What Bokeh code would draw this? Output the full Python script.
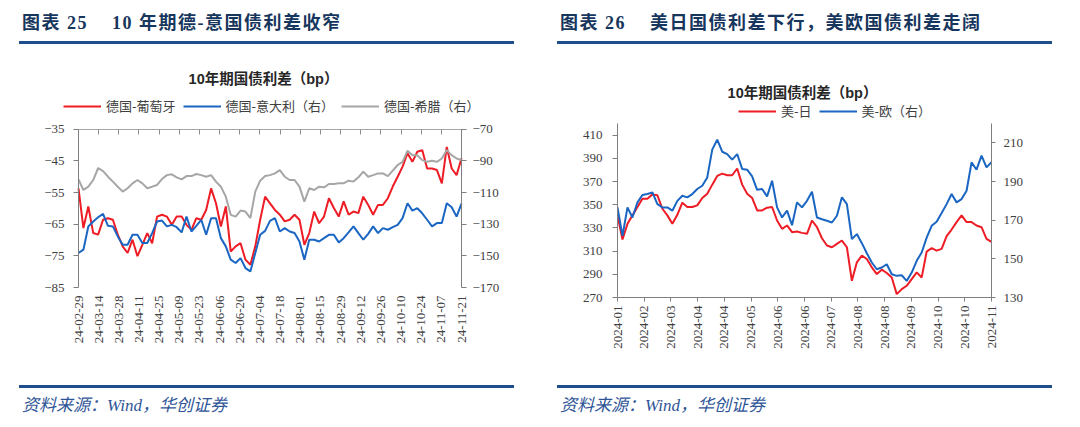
import numpy as np
from bokeh.plotting import figure
from bokeh.models import Range1d, LinearAxis, FixedTicker, Legend, LegendItem, Label, Div
from bokeh.layouts import row, column
from bokeh.embed import file_html
from bokeh.resources import INLINE

# ---------------- data: chart 25 (10Y spreads vs Germany, bp) ----------------
left_x_labels = ["24-02-29", "24-03-14", "24-03-28", "24-04-11", "24-04-25", "24-05-09",
                 "24-05-23", "24-06-06", "24-06-20", "24-07-04", "24-07-18", "24-08-01",
                 "24-08-15", "24-08-29", "24-09-12", "24-09-26", "24-10-10", "24-10-24",
                 "24-11-07", "24-11-21"]

de_pt = [-53.7, -66.2, -59.4, -67.8, -68.3, -63.6, -63.1, -63.6, -68.3, -72.0,
         -74.1, -69.9, -75.1, -71.5, -67.8, -71.0, -62.6, -62.0, -62.6, -65.2,
         -62.6, -62.6, -65.2, -66.8, -63.1, -63.6, -60.5, -53.7, -58.4, -65.7,
         -59.4, -73.6, -72.0, -71.0, -76.2, -77.8, -72.0, -63.6, -56.3, -58.4,
         -60.5, -62.0, -64.1, -63.6, -62.0, -63.6, -71.5, -67.8, -61.0, -64.7,
         -62.6, -56.8, -59.9, -62.6, -57.8, -62.0, -61.0, -61.5, -56.3, -58.9,
         -62.0, -58.9, -58.9, -56.8, -53.1, -50.0, -46.8, -42.6, -45.3, -42.1,
         -41.6, -47.4, -47.4, -47.9, -52.1, -40.6, -47.4, -49.5, -44.2]

de_it = [-148.2, -146.1, -131.4, -128.3, -125.6, -123.5, -131.0, -131.4, -137.7, -143.0,
         -143.0, -136.7, -136.7, -141.9, -141.9, -135.6, -128.3, -127.7, -131.4, -130.4,
         -131.9, -135.2, -125.2, -134.6, -131.0, -127.2, -136.7, -126.2, -126.2, -138.8,
         -144.0, -152.4, -154.5, -151.4, -157.7, -159.8, -148.2, -136.7, -134.2, -127.9,
         -126.2, -134.6, -132.5, -134.6, -135.6, -140.9, -152.4, -139.8, -139.8, -140.9,
         -138.8, -136.7, -136.7, -141.5, -138.8, -135.2, -131.4, -135.6, -139.8, -136.1,
         -131.4, -135.6, -132.5, -133.5, -131.9, -130.4, -126.2, -116.8, -121.4, -119.9,
         -123.1, -127.2, -131.4, -129.3, -129.3, -116.8, -119.3, -125.2, -117.0]

de_gr = [-101.7, -108.4, -106.3, -102.1, -94.5, -96.5, -100.0, -103.1, -106.3, -109.4,
         -107.3, -104.2, -102.1, -104.2, -107.3, -106.3, -105.2, -101.5, -99.0, -98.5,
         -100.4, -101.7, -99.6, -99.6, -98.3, -99.0, -100.0, -99.0, -103.1, -106.3,
         -112.6, -124.1, -125.2, -121.4, -122.0, -126.2, -109.4, -102.5, -99.6, -99.0,
         -97.9, -95.8, -100.0, -102.1, -102.1, -106.3, -115.7, -107.3, -108.4, -106.3,
         -106.7, -104.6, -104.6, -104.2, -104.2, -102.5, -103.1, -100.4, -96.8, -100.0,
         -99.0, -97.9, -97.9, -99.6, -96.2, -92.6, -90.6, -83.6, -86.4, -86.4,
         -89.5, -90.6, -89.9, -90.6, -88.5, -83.2, -86.4, -88.5, -89.5]

# ---------------- data: chart 26 (US-JP, US-EU 10Y spreads, bp) ----------------
right_x_labels = ["2024-01", "2024-02", "2024-03", "2024-04", "2024-04", "2024-05",
                  "2024-06", "2024-06", "2024-07", "2024-08", "2024-08", "2024-09",
                  "2024-10", "2024-10", "2024-11"]

us_jp = [340.8, 320.0, 333.5, 340.8, 348.0, 355.2, 355.2, 358.9, 358.1, 346.5,
         340.8, 333.5, 341.3, 351.7, 348.0, 348.0, 349.4, 355.8, 359.5, 367.3,
         374.8, 376.8, 375.4, 375.4, 381.2, 367.3, 359.5, 355.8, 345.1, 345.1,
         347.4, 348.0, 336.4, 329.2, 332.1, 326.3, 326.9, 325.7,
         324.9, 336.4, 330.6, 321.1, 314.8, 313.3, 316.2, 319.1, 313.3, 284.4,
         300.3, 306.1, 303.2, 296.0, 290.2, 294.0, 291.1, 287.3, 272.9, 277.2,
         280.1, 285.9, 291.7, 287.3, 309.6, 312.5, 310.4, 311.9, 322.9, 328.6,
         335.0, 340.8, 335.0, 335.0, 332.1, 330.6, 320.5, 318.0]

us_eu = [176.6, 161.9, 176.6, 171.4, 179.2, 183.0, 183.5, 184.4, 178.3, 176.6,
         176.6, 174.9, 180.0, 182.6, 181.8, 183.5, 186.1, 187.8, 192.1, 206.5,
         211.6, 205.4, 204.2, 201.3, 204.2, 196.5, 196.1, 192.7, 185.7, 186.1,
         182.3, 190.4, 176.6, 171.4, 174.9, 167.4, 179.2, 176.6,
         180.0, 184.7, 171.4, 170.5, 169.7, 168.8, 172.3, 181.8, 178.3, 160.2,
         162.8, 158.1, 152.9, 148.1, 144.6, 145.5, 147.2, 142.0, 141.2, 141.5,
         138.6, 142.9, 149.0, 153.3, 161.0, 167.1, 169.2, 173.7, 178.3, 183.5,
         179.2, 180.9, 185.2, 199.9, 196.1, 203.4, 197.3, 200.0]

left_y_ticks = [-85, -75, -65, -55, -45, -35]
left_y2_ticks = [-170, -150, -130, -110, -90, -70]
right_y_ticks = [270, 290, 310, 330, 350, 370, 390, 410]
right_y2_ticks = [130, 150, 170, 190, 210]

# ---------------- styles ----------------
RED = "#EE1C25"
BLUE = "#1A66C2"
GRAY = "#A6A6A6"
AXC = "#7F7F7F"
TXT = "#404040"
SERIF = "Liberation Serif"
CJK = "Noto Sans CJK SC"
NAVY = "#17365D"
RULE = "#1F4E8C"
TITLE_FONT = "'Liberation Sans','Noto Sans CJK SC'"


def style_axis(ax, tick_out=5, standoff=8):
    ax.axis_line_color = AXC
    ax.axis_line_width = 1
    ax.major_tick_line_color = AXC
    ax.major_tick_out = tick_out
    ax.major_tick_in = 0
    ax.minor_tick_line_color = None
    ax.major_label_text_font = SERIF
    ax.major_label_text_font_size = "13px"
    ax.major_label_text_color = TXT
    ax.major_label_standoff = standoff


def header(text, ml):
    html = ('<div style="height:33px;box-sizing:border-box;padding-top:3px;padding-left:3px;'
            'font-family:\'Liberation Serif\',\'Noto Sans CJK SC\';font-size:18px;letter-spacing:1.5px;'
            'font-weight:bold;color:%s;white-space:pre;line-height:24px;">%s</div>'
            % (NAVY, text))
    return Div(text=html, width=495, height=36, margin=(0, 0, 0, ml),
               styles={"border-bottom": "3px solid %s" % RULE})


def footer(ml):
    html = ('<div style="height:31px;box-sizing:border-box;padding-top:8px;padding-left:3px;'
            'font-family:\'Liberation Serif\',\'Noto Sans CJK SC\';font-size:17px;'
            'font-style:italic;color:#2F5597;white-space:pre;line-height:20px;">'
            '资料来源：Wind，华创证券</div>')
    return Div(text=html, width=495, height=34, margin=(0, 0, 0, ml),
               styles={"border-top": "3px solid %s" % RULE})


def make_legend(items, loc):
    return Legend(items=items, orientation="horizontal", location=loc,
                  border_line_color=None, background_fill_alpha=0, padding=0, margin=0,
                  spacing=7, glyph_width=38, glyph_height=14, label_standoff=5,
                  label_height=14, label_text_font=CJK, label_text_font_size="13px",
                  label_text_color=TXT)


def title_label(x, y):
    return Label(x=x, y=y, x_units="screen", y_units="screen",
                 text="10年期国债利差（bp）", text_font=TITLE_FONT,
                 text_font_size="14.5px", text_font_style="bold", text_color="#262626",
                 text_align="center", text_baseline="middle")


def extended(lo, hi, data_px, extra_lo_px, extra_hi_px):
    # range whose [lo, hi] part fills data_px pixels, with extra room on both sides
    span = hi - lo
    return Range1d(lo - span * extra_lo_px / data_px, hi + span * extra_hi_px / data_px)


# ---------------- left figure ----------------
# frame 460 x 235 px; data band 383 x 159 px, leaving room for legend/title and axis labels
n1 = len(de_pt)
nl = len(left_x_labels) - 1
x1 = np.linspace(0, nl, n1)
p1 = figure(width=540, height=341, output_backend="svg", toolbar_location=None,
            x_range=extended(0, nl, 383, 38, 39),
            y_range=extended(left_y_ticks[0], left_y_ticks[-1], 159, 8, 69),
            min_border_left=32, min_border_right=48, min_border_top=16, min_border_bottom=90,
            x_axis_location=None, y_axis_location=None)
p1.extra_y_ranges = {"r": extended(left_y2_ticks[0], left_y2_ticks[-1], 159, 8, 69)}
p1.xgrid.visible = False
p1.ygrid.visible = False
p1.outline_line_color = None

yl1 = LinearAxis(ticker=FixedTicker(ticks=left_y_ticks), fixed_location=0,
                 bounds=(left_y_ticks[0], left_y_ticks[-1]))
style_axis(yl1, 5, 9)
p1.add_layout(yl1, "left")
yr1 = LinearAxis(y_range_name="r", ticker=FixedTicker(ticks=left_y2_ticks), fixed_location=nl,
                 bounds=(left_y2_ticks[0], left_y2_ticks[-1]))
style_axis(yr1, 5, 6)
p1.add_layout(yr1, "right")

tk1 = list(range(len(left_x_labels)))
xb1 = LinearAxis(ticker=FixedTicker(ticks=tk1), bounds=(0, nl),
                 major_label_overrides={i: s for i, s in zip(tk1, left_x_labels)})
style_axis(xb1, 0, 0)
xb1.axis_line_color = None
xb1.major_tick_line_color = None
xb1.major_label_orientation = np.pi / 2
p1.add_layout(xb1, "below")

# category axis crossing at the top of the value range (ticks pointing down)
xt1 = LinearAxis(ticker=FixedTicker(ticks=tk1), fixed_location=left_y_ticks[-1], bounds=(0, nl),
                 major_label_overrides={i: "" for i in tk1})
style_axis(xt1, 5, 0)
xt1.major_label_text_font_size = "0px"
xt1.axis_line_color = "#A6A6A6"
xt1.major_tick_line_color = "#8C8C8C"
p1.add_layout(xt1, "below")

r_pt = p1.line(x1, de_pt, line_color=RED, line_width=2)
r_it = p1.line(x1, de_it, line_color=BLUE, line_width=2, y_range_name="r")
r_gr = p1.line(x1, de_gr, line_color=GRAY, line_width=2, y_range_name="r")

p1.add_layout(make_legend([LegendItem(label="德国-葡萄牙", renderers=[r_pt]),
                           LegendItem(label="德国-意大利（右）", renderers=[r_it]),
                           LegendItem(label="德国-希腊（右）", renderers=[r_gr])], (23, 180)))
p1.add_layout(title_label(223, 217))

# ---------------- right figure ----------------
# frame 374 x 227 px; data band 174 px tall, 53 px headroom
n2 = len(us_jp)
nr = len(right_x_labels) - 1
x2 = np.linspace(0, nr, n2)
p2 = figure(width=524, height=341, output_backend="svg", toolbar_location=None,
            x_range=Range1d(0, nr),
            y_range=extended(270, 420, 174, 0, 53),
            min_border_left=69, min_border_right=81, min_border_top=26, min_border_bottom=88,
            x_axis_location=None, y_axis_location=None)
p2.extra_y_ranges = {"r": extended(130, 220, 174, 0, 53)}
p2.xgrid.visible = False
p2.ygrid.visible = False
p2.outline_line_color = None

yl2 = LinearAxis(ticker=FixedTicker(ticks=right_y_ticks), bounds=(270, 420))
style_axis(yl2, 5, 10)
p2.add_layout(yl2, "left")
yr2 = LinearAxis(y_range_name="r", ticker=FixedTicker(ticks=right_y2_ticks), bounds=(130, 220))
style_axis(yr2, 4, 8)
p2.add_layout(yr2, "right")
tk2 = list(range(len(right_x_labels)))
xb2 = LinearAxis(ticker=FixedTicker(ticks=tk2),
                 major_label_overrides={i: s for i, s in zip(tk2, right_x_labels)})
style_axis(xb2, 4, 4)
xb2.major_label_orientation = np.pi / 2
p2.add_layout(xb2, "below")

r_jp = p2.line(x2, us_jp, line_color=RED, line_width=2)
r_eu = p2.line(x2, us_eu, line_color=BLUE, line_width=2, y_range_name="r")

p2.add_layout(make_legend([LegendItem(label="美-日", renderers=[r_jp]),
                           LegendItem(label="美-欧（右）", renderers=[r_eu])], (121, 177)))
p2.add_layout(title_label(185, 205))

left_panel = column(header("图表 25    10 年期德-意国债利差收窄", 11), p1, footer(11))
right_panel = column(header("图表 26    美日国债利差下行，美欧国债利差走阔", 9), p2, footer(9))
layout = row(left_panel, right_panel, margin=(8, 0, 0, 8))

open("out.html", "w").write(file_html(layout, INLINE))
